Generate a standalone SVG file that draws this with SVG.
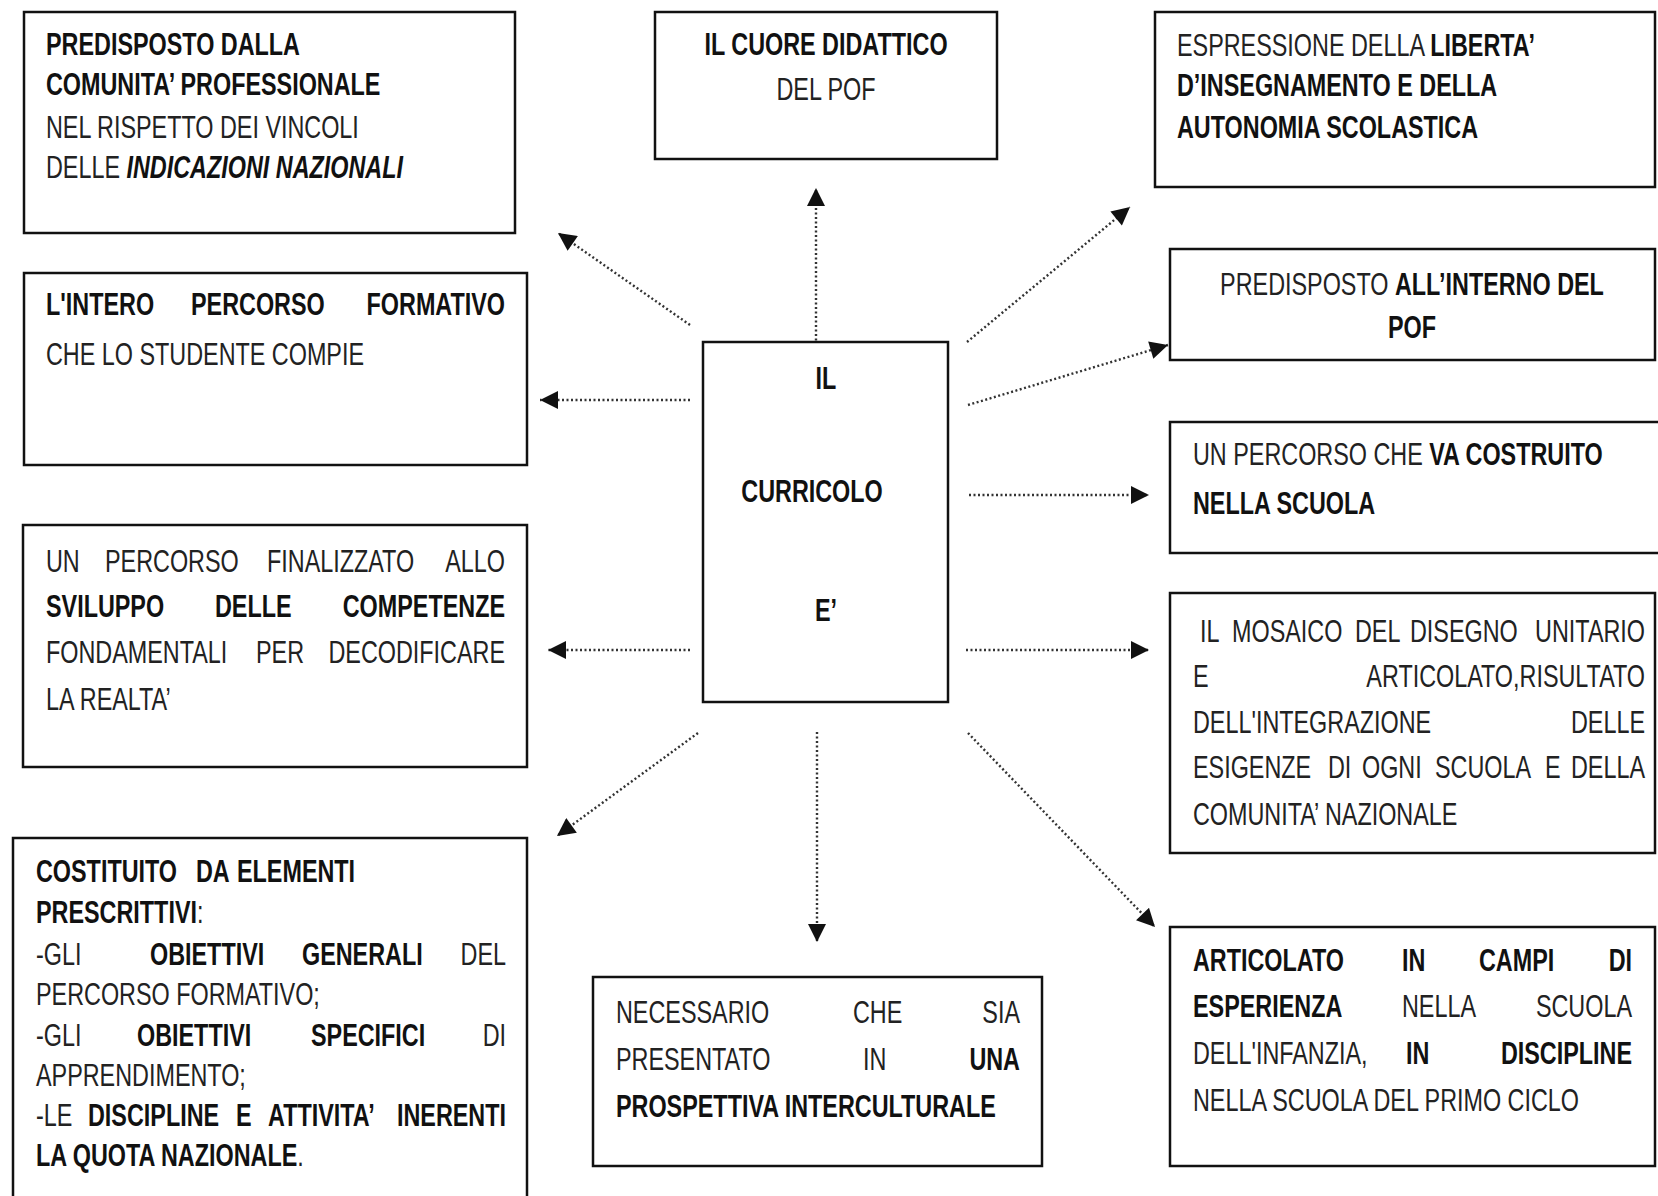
<svg xmlns="http://www.w3.org/2000/svg" width="1658" height="1196" viewBox="0 0 1658 1196">
<defs>
<style>
text { font-family: "Liberation Sans", Arial, sans-serif; font-size: 31px; fill: #222; }
.b { font-weight: bold; fill: #111; }
.bi { font-weight: bold; font-style: italic; fill: #111; }
.r { font-weight: normal; fill: #222; }
.m { text-anchor: middle; }
.e { text-anchor: end; }
.box { fill: #fff; stroke: #111; stroke-width: 2.5; }
.c { stroke: #333; stroke-width: 2.4; stroke-dasharray: 2 2.5; fill: none; }
</style>
<marker id="ah" viewBox="0 0 10 10" refX="10" refY="5" markerWidth="19" markerHeight="18" markerUnits="userSpaceOnUse" orient="auto">
<path d="M0,0 L10,5 L0,10 z" fill="#111"/>
</marker>
</defs>
<rect width="1658" height="1196" fill="#fff"/>

<g id="connectors">
<line class="c" x1="816" y1="345" x2="816" y2="188" marker-end="url(#ah)"/>
<line class="c" x1="690" y1="325" x2="558" y2="233" marker-end="url(#ah)"/>
<line class="c" x1="690" y1="400" x2="540" y2="400" marker-end="url(#ah)"/>
<line class="c" x1="690" y1="650" x2="548" y2="650" marker-end="url(#ah)"/>
<line class="c" x1="698" y1="733" x2="557" y2="836" marker-end="url(#ah)"/>
<line class="c" x1="817" y1="732" x2="817" y2="942" marker-end="url(#ah)"/>
<line class="c" x1="968" y1="733" x2="1155" y2="927" marker-end="url(#ah)"/>
<line class="c" x1="966" y1="650" x2="1149" y2="650" marker-end="url(#ah)"/>
<line class="c" x1="969" y1="495" x2="1149" y2="495" marker-end="url(#ah)"/>
<line class="c" x1="968" y1="405" x2="1168" y2="345" marker-end="url(#ah)"/>
<line class="c" x1="967" y1="342" x2="1130" y2="207" marker-end="url(#ah)"/>
</g>

<g id="n1">
<rect class="box" x="24" y="12" width="491" height="221"/>
<text class="b" transform="translate(46 55) scale(.754 1)">PREDISPOSTO DALLA</text>
<text class="b" transform="translate(46 95) scale(.754 1)">COMUNITA’ PROFESSIONALE</text>
<text transform="translate(46 138) scale(.754 1)">NEL RISPETTO DEI VINCOLI</text>
<text transform="translate(46 178) scale(.754 1)">DELLE <tspan class="bi">INDICAZIONI NAZIONALI</tspan></text>
</g>

<g id="n2">
<rect class="box" x="24" y="273" width="503" height="192"/>
<text class="b" transform="translate(46 315) scale(.754 1)">L'INTERO</text>
<text class="b" transform="translate(191 315) scale(.754 1)">PERCORSO</text>
<text class="b e" transform="translate(505 315) scale(.754 1)">FORMATIVO</text>
<text transform="translate(46 365) scale(.754 1)">CHE LO STUDENTE COMPIE</text>
</g>

<g id="n3">
<rect class="box" x="23" y="525" width="504" height="242"/>
<text transform="translate(46 572) scale(.754 1)">UN</text>
<text transform="translate(105 572) scale(.754 1)">PERCORSO</text>
<text transform="translate(267 572) scale(.754 1)">FINALIZZATO</text>
<text class="e" transform="translate(505 572) scale(.754 1)">ALLO</text>
<text class="b" transform="translate(46 617) scale(.754 1)">SVILUPPO</text>
<text class="b" transform="translate(215 617) scale(.754 1)">DELLE</text>
<text class="b e" transform="translate(505 617) scale(.754 1)">COMPETENZE</text>
<text transform="translate(46 663) scale(.754 1)">FONDAMENTALI</text>
<text transform="translate(256 663) scale(.754 1)">PER</text>
<text class="e" transform="translate(505 663) scale(.754 1)">DECODIFICARE</text>
<text transform="translate(46 710) scale(.754 1)">LA REALTA’</text>
</g>

<g id="n4">
<rect class="box" x="13" y="838" width="514" height="364"/>
<text class="b" transform="translate(36 882) scale(.754 1)">COSTITUITO</text>
<text class="b" transform="translate(196 882) scale(.754 1)">DA</text>
<text class="b" transform="translate(237 882) scale(.754 1)">ELEMENTI</text>
<text class="b" transform="translate(36 923) scale(.754 1)">PRESCRITTIVI<tspan class="r">:</tspan></text>
<text transform="translate(36 965) scale(.754 1)">-GLI</text>
<text class="b" transform="translate(150 965) scale(.754 1)">OBIETTIVI</text>
<text class="b" transform="translate(302 965) scale(.754 1)">GENERALI</text>
<text class="e" transform="translate(506 965) scale(.754 1)">DEL</text>
<text transform="translate(36 1005) scale(.754 1)">PERCORSO FORMATIVO;</text>
<text transform="translate(36 1046) scale(.754 1)">-GLI</text>
<text class="b" transform="translate(137 1046) scale(.754 1)">OBIETTIVI</text>
<text class="b" transform="translate(311 1046) scale(.754 1)">SPECIFICI</text>
<text class="e" transform="translate(506 1046) scale(.754 1)">DI</text>
<text transform="translate(36 1086) scale(.754 1)">APPRENDIMENTO;</text>
<text transform="translate(36 1126) scale(.754 1)">-LE</text>
<text class="b" transform="translate(88 1126) scale(.754 1)">DISCIPLINE</text>
<text class="b" transform="translate(236 1126) scale(.754 1)">E</text>
<text class="b" transform="translate(268 1126) scale(.754 1)">ATTIVITA’</text>
<text class="b e" transform="translate(506 1126) scale(.754 1)">INERENTI</text>
<text class="b" transform="translate(36 1166) scale(.754 1)">LA QUOTA NAZIONALE<tspan class="r">.</tspan></text>
</g>

<g id="n5">
<rect class="box" x="655" y="12" width="342" height="147"/>
<text class="b m" transform="translate(826 55) scale(.754 1)">IL CUORE DIDATTICO</text>
<text class="m" transform="translate(826 100) scale(.754 1)">DEL POF</text>
</g>

<g id="n6">
<rect class="box" x="703" y="342" width="245" height="360"/>
<text class="b m" transform="translate(826 389) scale(.754 1)">IL</text>
<text class="b m" transform="translate(812 502) scale(.754 1)">CURRICOLO</text>
<text class="b m" transform="translate(826 621) scale(.754 1)">E’</text>
</g>

<g id="n7">
<rect class="box" x="593" y="977" width="449" height="189"/>
<text transform="translate(616 1023) scale(.754 1)">NECESSARIO</text>
<text transform="translate(853 1023) scale(.754 1)">CHE</text>
<text class="e" transform="translate(1020 1023) scale(.754 1)">SIA</text>
<text transform="translate(616 1070) scale(.754 1)">PRESENTATO</text>
<text transform="translate(863 1070) scale(.754 1)">IN</text>
<text class="b e" transform="translate(1020 1070) scale(.754 1)">UNA</text>
<text class="b" transform="translate(616 1117) scale(.754 1)">PROSPETTIVA INTERCULTURALE</text>
</g>

<g id="n8">
<rect class="box" x="1155" y="12" width="500" height="175"/>
<text transform="translate(1177 56) scale(.754 1)">ESPRESSIONE DELLA <tspan class="b">LIBERTA’</tspan></text>
<text class="b" transform="translate(1177 96) scale(.754 1)">D’INSEGNAMENTO E DELLA</text>
<text class="b" transform="translate(1177 138) scale(.754 1)">AUTONOMIA SCOLASTICA</text>
</g>

<g id="n9">
<rect class="box" x="1170" y="249" width="485" height="111"/>
<text class="m" transform="translate(1412 295) scale(.754 1)">PREDISPOSTO <tspan class="b">ALL’INTERNO DEL</tspan></text>
<text class="b m" transform="translate(1412 338) scale(.754 1)">POF</text>
</g>

<g id="n10">
<rect class="box" x="1170" y="422" width="490" height="131"/>
<text transform="translate(1193 465) scale(.754 1)">UN PERCORSO CHE <tspan class="b">VA COSTRUITO</tspan></text>
<text class="b" transform="translate(1193 514) scale(.754 1)">NELLA SCUOLA</text>
</g>

<g id="n11">
<rect class="box" x="1170" y="593" width="485" height="260"/>
<text transform="translate(1200 642) scale(.754 1)">IL</text>
<text transform="translate(1232 642) scale(.754 1)">MOSAICO</text>
<text transform="translate(1355 642) scale(.754 1)">DEL</text>
<text transform="translate(1410 642) scale(.754 1)">DISEGNO</text>
<text class="e" transform="translate(1645 642) scale(.754 1)">UNITARIO</text>
<text transform="translate(1193 687) scale(.754 1)">E</text>
<text class="e" transform="translate(1645 687) scale(.754 1)">ARTICOLATO,RISULTATO</text>
<text transform="translate(1193 733) scale(.754 1)">DELL'INTEGRAZIONE</text>
<text class="e" transform="translate(1645 733) scale(.754 1)">DELLE</text>
<text transform="translate(1193 778) scale(.754 1)">ESIGENZE</text>
<text transform="translate(1328 778) scale(.754 1)">DI</text>
<text transform="translate(1362 778) scale(.754 1)">OGNI</text>
<text transform="translate(1435 778) scale(.754 1)">SCUOLA</text>
<text transform="translate(1545 778) scale(.754 1)">E</text>
<text class="e" transform="translate(1645 778) scale(.754 1)">DELLA</text>
<text transform="translate(1193 825) scale(.754 1)">COMUNITA’ NAZIONALE</text>
</g>

<g id="n12">
<rect class="box" x="1170" y="927" width="485" height="239"/>
<text class="b" transform="translate(1193 971) scale(.754 1)">ARTICOLATO</text>
<text class="b" transform="translate(1402 971) scale(.754 1)">IN</text>
<text class="b" transform="translate(1479 971) scale(.754 1)">CAMPI</text>
<text class="b e" transform="translate(1632 971) scale(.754 1)">DI</text>
<text class="b" transform="translate(1193 1017) scale(.754 1)">ESPERIENZA</text>
<text transform="translate(1402 1017) scale(.754 1)">NELLA</text>
<text class="e" transform="translate(1632 1017) scale(.754 1)">SCUOLA</text>
<text transform="translate(1193 1064) scale(.754 1)">DELL'INFANZIA,</text>
<text class="b" transform="translate(1406 1064) scale(.754 1)">IN</text>
<text class="b e" transform="translate(1632 1064) scale(.754 1)">DISCIPLINE</text>
<text transform="translate(1193 1111) scale(.754 1)">NELLA SCUOLA DEL PRIMO CICLO</text>
</g>
</svg>
